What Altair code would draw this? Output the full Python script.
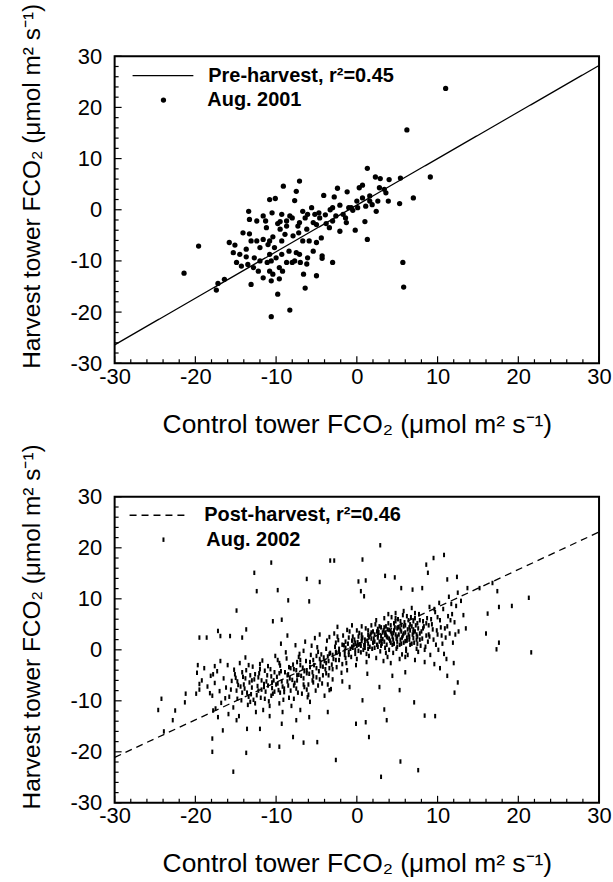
import altair as alt
import pandas as pd

FONT = "Liberation Sans"

# ---------------- axis ticks (data units) ----------------
MAJOR = [-30, -20, -10, 0, 10, 20, 30]
MINOR = [-28, -26, -24, -22, -18, -16, -14, -12, -8, -6, -4, -2,
         2, 4, 6, 8, 12, 14, 16, 18, 22, 24, 26, 28]

# ---------------- regression lines ----------------
LINE_X = [-30, 30]
PRE_Y = [-26.4, 28.2]
POST_Y = [-21.1, 23.1]

# ---------------- Aug. 2001 (top panel) ----------------
aug2001_upper = [
    (11.0, 23.7), (6.2, 15.6), (9.1, 6.4), (1.3, 8.1), (2.3, 6.4), (2.9, 6.1),
    (4.0, 5.9), (5.4, 6.2), (0.7, 4.8), (0.3, 4.3), (-2.4, 4.2), (-1.2, 3.5),
    (-4.1, 2.8), (-2.8, 2.5), (-7.1, 5.6), (-9.1, 4.6), (-7.5, 3.6), (-7.7, 1.8),
    (-10.8, 2.0), (-10.1, 2.2), (-13.4, -0.3), (-11.6, -1.2), (-10.5, -0.6),
    (-9.5, -2.3), (-8.3, -1.2), (-8.0, -1.6), (-6.7, -0.3), (-6.1, -0.9),
    (-5.6, 0.4), (-4.7, -0.6), (-3.9, -1.0), (-3.3, 0.0), (-2.1, 0.9),
    (-1.7, -0.9), (-1.0, 0.4), (-0.5, -0.1), (0.1, 0.4), (1.1, 0.7), (0.7, 2.3),
    (1.6, 1.7), (2.4, -0.3), (3.6, 3.3), (3.9, 1.7), (5.3, 1.2), (7.0, 2.3),
    (2.6, 1.7), (1.6, 2.7), (1.0, -2.3), (1.3, -5.8), (-0.2, -4.0),
]
aug2001_middle = [
    (-1.4, -1.6), (-2.1, -4.2), (-3.0, -2.2), (-3.4, -3.5), (-4.4, -5.5),
    (-5.0, -6.4), (-5.9, -6.1), (-6.7, -6.1), (-5.4, -8.1), (-4.3, -9.5),
    (-3.0, -10.3), (-6.1, -9.4), (-7.0, -10.3), (-7.7, -10.0), (-8.7, -10.3),
    (-9.3, -8.7), (-10.2, -7.4), (-11.0, -6.8), (-11.6, -5.8), (-12.4, -6.1),
    (-13.1, -6.1), (-14.1, -4.5), (-13.3, -4.7), (-15.8, -6.4), (-15.1, -6.9),
    (-13.7, -7.7), (-14.5, -8.7), (-13.7, -9.2), (-12.7, -9.4), (-14.3, -11.0),
    (-12.8, -11.3), (-12.2, -12.0), (-11.6, -13.3), (-13.1, -14.6),
    (-10.8, -12.0), (-10.6, -13.9), (-9.6, -13.5), (-9.2, -12.0), (-8.0, -10.3),
    (-6.6, -12.6), (-6.4, -15.3), (-5.0, -12.9), (-9.8, -16.5), (-8.3, -19.6),
    (-10.6, -20.9), (-16.4, -13.6), (-17.2, -14.4), (-17.4, -15.7),
    (-19.6, -7.1), (-21.4, -12.4),
]
aug2001_lower = [
    (5.7, -10.3), (5.8, -15.1), (-4.3, -9.0), (-10.4, -5.3), (-9.5, -3.8),
    (-8.9, -4.8), (-8.7, -3.2), (-7.3, -3.2), (-6.2, -3.8), (-5.0, -2.9),
    (-7.9, -5.1), (-7.2, -4.5), (-11.2, -3.5), (-10.8, -8.7), (-10.0, -9.4),
    (-11.1, -10.3), (-9.3, -6.1), (-3.8, -2.7), (-2.6, -1.2), (-1.3, -2.5),
    (-0.7, 0.4), (1.9, 1.0), (2.8, 4.3), (3.4, 4.0), (0.0, 1.7), (-3.0, 0.4),
    (-4.6, -1.6), (-5.2, -0.9), (-5.4, -2.5), (-6.4, -1.6), (-7.1, -2.5),
    (-8.7, -2.2), (-9.3, -0.9), (-9.8, -2.7), (-12.4, -2.2), (-11.3, -2.2),
    (-13.3, -1.9), (-10.8, -6.1), (-12.0, -7.4), (-10.6, -10.0), (-12.0, -10.0),
    (-15.3, -8.4), (-14.9, -10.3), (-13.5, -10.7), (-8.4, -8.1), (-7.5, -8.4),
    (-9.6, -11.3), (-10.4, -12.6), (-7.1, -8.7), (-6.2, -10.6),
]

# ---------------- Aug. 2002 (bottom panel) ----------------
aug2002_outliers = [
    (2.9, 20.5), (-10.6, 17.1), (-3.3, 17.5), (-2.8, 17.5), (0.7, 17.7),
    (9.5, 18.0), (10.8, 18.6), (-12.7, 15.1), (-6.2, 13.9), (-4.6, 13.3),
    (0.2, 13.4), (1.1, 13.6), (3.5, 14.5), (4.7, 14.2), (8.6, 16.7),
    (8.8, 15.1), (11.2, 13.8), (12.4, 14.3), (-12.4, 11.5), (-9.8, 11.7),
    (0.5, 11.5), (0.9, 10.5), (5.5, 12.1), (6.9, 11.8), (8.1, 12.1),
    (13.7, 12.1), (15.2, 12.1), (16.8, 13.1), (17.4, 11.5), (17.6, 8.4),
    (19.2, 8.6), (21.3, 10.2), (16.2, 7.1), (16.0, 3.2), (17.6, 1.4),
    (17.3, 0.1), (21.6, -0.5), (-14.9, 7.7), (-8.5, 9.7), (-5.9, 9.5),
    (-10.4, 5.6), (-9.3, 5.9), (-19.5, 2.4), (-18.6, 2.4), (-17.2, 3.7),
    (-16.9, 2.7), (-15.7, 2.7), (-13.7, 4.0), (-14.2, 2.4), (-19.7, -3.0),
    (-17.6, -3.2), (-19.5, -6.7), (-21.2, -8.6), (-21.3, -10.3), (-19.9, -8.6),
    (-22.5, -11.9), (-24.2, -9.6), (-24.6, -11.8), (-22.8, -13.8),
    (-23.9, -16.0), (-17.9, -17.4), (-17.9, -20.0), (-15.3, -23.9),
    (-13.7, -20.2), (-10.8, -18.8), (-9.6, -19.0), (-7.9, -17.1),
    (-6.6, -18.2), (-4.9, -18.1), (-2.6, -21.6), (1.5, -17.1), (3.0, -24.9),
    (5.4, -21.9), (7.6, -23.6), (-0.1, -14.5), (1.1, -14.2), (3.7, -13.8),
    (3.4, -11.7), (7.1, -10.3), (8.4, -12.9), (9.7, -13.0), (12.1, -8.4),
    (12.5, -6.4), (11.2, -5.1), (10.3, -3.6), (6.0, -4.4), (4.4, -5.1),
    (5.3, -7.9), (2.8, -7.3), (1.3, -4.7), (0.7, -9.9), (-0.9, -7.3),
    (-3.4, -7.9), (-3.6, -12.2), (-5.9, -13.2), (-7.5, -13.8), (-9.3, -14.5),
    (-12.0, -15.5), (-13.6, -15.5), (-14.9, -13.8), (-16.6, -15.8),
    (-17.2, -13.2), (-17.8, -11.9),
]
aug2002_low = [
    (-19.8, -4.5), (-19.2, -6.0), (-18.9, -3.6), (-18.5, -7.2), (-18.1, -5.1),
    (-17.9, -9.0), (-17.6, -6.5), (-17.3, -4.2), (-17.0, -8.1), (-16.8, -10.4),
    (-16.5, -5.6), (-16.2, -7.4), (-16.0, -3.0), (-15.8, -9.2), (-15.5, -6.1),
    (-15.3, -11.3), (-15.1, -4.8), (-14.9, -8.0), (-14.7, -6.9), (-14.5, -2.6),
    (-14.3, -9.9), (-14.1, -5.3), (-13.9, -7.6), (-13.7, -4.0), (-13.5, -10.8),
    (-13.3, -6.4), (-13.1, -8.7), (-12.9, -3.3), (-12.7, -5.8), (-12.5, -12.2),
    (-12.3, -7.1), (-12.1, -4.6), (-11.9, -9.4), (-11.7, -2.1), (-11.5, -6.7),
    (-11.3, -8.2), (-11.1, -5.0), (-10.9, -10.1), (-10.7, -3.8), (-10.5, -7.5),
    (-10.3, -6.0), (-10.1, -1.2), (-17.5, -11.5), (-16.9, -2.2), (-15.9, -12.6),
    (-14.6, -13.0), (-13.8, -1.5), (-12.6, -10.5), (-11.6, -11.8),
    (-10.8, -13.0), (-18.2, -8.5), (-16.3, -9.5), (-15.0, -5.5), (-14.0, -6.8),
    (-13.2, -5.0), (-12.4, -8.9), (-11.4, -4.1), (-10.6, -9.0), (-19.5, -7.8),
    (-17.8, -4.8),
]
aug2002_midlow = [
    (-9.9, -5.3), (-9.7, -7.9), (-9.5, -3.1), (-9.3, -6.2), (-9.1, -9.8),
    (-8.9, -4.4), (-8.7, -1.7), (-8.5, -7.0), (-8.3, -5.6), (-8.1, -11.0),
    (-7.9, -2.9), (-7.7, -6.5), (-7.5, -4.0), (-7.3, -8.4), (-7.1, -0.8),
    (-6.9, -5.1), (-6.7, -3.5), (-6.5, -7.3), (-6.3, -2.2), (-6.1, -9.3),
    (-5.9, -4.7), (-5.7, -1.0), (-5.5, -6.0), (-5.3, -3.0), (-5.1, -8.0),
    (-4.9, 0.5), (-4.7, -4.2), (-4.5, -2.4), (-4.3, -6.6), (-4.1, -1.5),
    (-3.9, -3.8), (-3.7, 1.8), (-3.5, -5.0), (-3.3, -0.6), (-3.1, -2.9),
    (-9.8, -2.0), (-9.0, -8.3), (-8.4, -3.4), (-7.8, -9.6), (-7.2, -4.9),
    (-6.6, -0.2), (-6.0, -6.8), (-5.4, -2.0), (-4.8, -7.0), (-4.2, -3.3),
    (-3.6, -1.3), (-9.6, -10.5), (-8.8, -0.5), (-8.0, -5.9), (-7.4, -2.4),
    (-6.8, -8.6), (-6.2, -4.0), (-5.6, 0.8), (-5.0, -5.4), (-4.4, -0.9),
    (-3.8, -4.6), (-3.2, -7.7), (-9.4, 1.2), (-8.6, 2.8), (-7.6, 0.9),
    (-6.4, 1.6), (-5.2, 2.3), (-4.6, 3.0), (-3.4, 2.5), (-9.2, -12.2),
    (-7.0, -11.8), (-5.8, -10.2), (-4.0, -9.0), (-3.0, -5.8),
]
aug2002_mid = [
    (-2.9, -1.8), (-2.7, 0.6), (-2.5, -3.4), (-2.3, 1.9), (-2.1, -0.9),
    (-1.9, -4.5), (-1.7, 2.8), (-1.5, -0.2), (-1.3, -2.6), (-1.1, 1.2),
    (-0.9, 3.6), (-0.7, -1.4), (-0.5, 0.4), (-0.3, 2.0), (-0.1, -3.0),
    (0.1, 1.5), (0.3, 3.3), (0.5, -0.5), (0.7, 2.4), (0.9, 0.9), (1.1, 4.2),
    (1.3, 1.8), (1.5, -1.2), (1.7, 3.0), (1.9, 0.2), (2.1, 2.2), (2.3, 5.0),
    (2.5, 1.0), (2.7, 3.5), (2.9, -0.3), (-2.8, 3.2), (-2.2, -2.0), (-1.6, 0.9),
    (-1.0, -1.0), (-0.4, 1.0), (0.2, 2.6), (0.8, 0.0), (1.4, 2.9), (2.0, 1.4),
    (2.6, 4.1), (-2.4, 4.5), (-1.8, -6.2), (-1.2, 3.9), (-0.6, 4.8),
    (0.0, -1.8), (0.6, 4.6), (1.2, -2.4), (1.8, 4.8), (2.4, -1.6), (3.0, 2.7),
    (-0.8, 0.2), (0.4, 1.1), (1.6, 0.6), (2.8, 1.6), (-2.6, -0.4), (-1.4, 1.6),
    (0.0, 0.8), (1.0, 2.0), (2.2, 0.4), (-0.2, -0.8), (0.6, 1.7), (1.4, 1.2),
    (2.0, 3.6), (2.6, 2.4),
]
aug2002_high = [
    (3.1, 1.2), (3.3, 3.8), (3.5, 0.4), (3.7, 2.6), (3.9, 5.2), (4.1, 1.8),
    (4.3, 3.2), (4.5, -0.6), (4.7, 4.4), (4.9, 2.2), (5.1, 6.0), (5.3, 1.0),
    (5.5, 3.6), (5.7, 2.8), (5.9, 5.4), (6.1, 0.2), (6.3, 4.0), (6.5, 2.0),
    (6.7, 6.4), (6.9, 3.0), (7.1, 1.4), (7.3, 4.8), (7.5, 2.6), (7.7, 7.0),
    (7.9, 0.8), (3.2, 2.1), (3.6, 4.6), (4.0, 0.0), (4.4, 2.5), (4.8, 5.6),
    (5.2, 3.0), (5.6, -0.9), (6.0, 3.4), (6.4, 5.8), (6.8, 1.2), (7.2, 3.6),
    (7.6, -0.4), (3.4, 6.2), (3.8, -1.4), (4.2, 4.8), (4.6, 1.2), (5.0, 4.2),
    (5.4, 2.0), (5.8, 4.6), (6.2, 2.4), (6.6, 3.8), (7.0, 5.6), (7.4, 0.2),
    (7.8, 3.2), (3.0, 4.4), (3.5, 2.9), (4.0, 3.9), (4.5, 3.3), (5.0, 1.6),
    (5.5, 4.9), (6.0, 1.7), (6.5, 4.4), (7.0, 2.3), (3.3, -2.2), (4.2, -2.6),
    (5.3, -1.8), (6.3, -1.0), (7.2, -2.0), (4.8, 7.2), (5.8, 7.6), (6.8, 8.2),
    (3.9, 7.0),
]
aug2002_right = [
    (8.1, 2.2), (8.3, 4.6), (8.5, 0.6), (8.7, 6.2), (8.9, 3.0), (9.1, -1.0),
    (9.3, 5.0), (9.5, 2.0), (9.7, 7.4), (9.9, 3.8), (10.1, 0.0), (10.3, 5.8),
    (10.5, 2.8), (10.7, 8.0), (10.9, 4.2), (11.1, -1.8), (11.3, 6.6),
    (11.5, 3.2), (11.7, 9.0), (11.9, 1.4), (12.1, 5.4), (12.3, 8.6),
    (12.6, 3.6), (12.9, 9.6), (13.2, 6.8), (8.4, -2.4), (9.0, 8.4), (9.6, -2.8),
    (10.2, 9.2), (10.8, -0.8), (11.4, 10.4), (12.0, -2.6), (12.5, 11.2),
    (8.8, 1.6), (9.4, 4.0), (10.0, 6.4), (10.6, 1.2), (11.2, 4.6), (11.8, 7.0),
    (8.2, 5.6), (13.5, 4.2),
]
aug2002_dense = [
    (-15.6, -7.8), (-15.2, -3.9), (-14.8, -9.6), (-14.4, -7.2), (-14.2, -4.4),
    (-13.6, -8.4), (-13.4, -3.0), (-13.0, -6.0), (-12.8, -9.8), (-12.2, -5.4),
    (-12.0, -2.8), (-11.8, -7.8), (-11.2, -6.2), (-11.0, -3.2), (-10.4, -8.6),
    (-10.2, -4.4), (-10.0, -6.8), (-9.6, -4.6), (-9.2, -7.2), (-8.6, -5.0),
    (-8.2, -8.0), (-7.8, -3.8), (-7.4, -6.0), (-7.0, -2.0), (-6.6, -5.6),
    (-6.2, -7.8), (-5.8, -3.4), (-5.4, -5.2), (-5.0, -1.2), (-4.6, -5.8),
    (-4.0, -2.2), (-3.8, 0.2), (-3.4, -3.6), (-3.0, -1.0), (-2.6, 1.4),
    (-2.2, -0.4), (-1.8, 1.0), (-1.4, -1.6), (-1.0, 2.4), (-0.6, 0.6),
    (-0.2, 1.4), (0.2, -0.2), (0.6, 3.0), (1.0, 0.4), (1.4, 3.8), (1.8, 2.2),
    (2.2, 3.0), (2.6, 0.6), (2.8, 4.6), (3.0, 0.8), (3.2, 3.4), (3.4, 1.6),
    (3.6, 3.0), (3.8, 4.0), (4.0, 2.2), (4.2, 3.6), (4.4, 1.0), (4.6, 5.2),
    (4.8, 3.0), (5.0, 0.6), (5.2, 4.4), (5.4, 5.6), (5.6, 2.4), (5.8, 1.4),
    (6.0, 4.8), (6.2, 6.6), (6.4, 3.0), (6.6, 1.0), (6.8, 4.6), (7.0, 3.4),
    (7.2, 6.2), (7.4, 2.0), (7.6, 4.2), (7.8, 5.8), (4.3, 6.4), (5.7, 6.8),
    (3.7, 1.0), (4.9, 0.2), (6.1, -0.2), (7.5, 1.2), (8.0, 3.6), (8.6, 2.8),
    (9.2, 6.0), (9.8, 1.0), (10.4, 4.4), (11.0, 2.4), (11.6, 5.8), (12.2, 3.0),
    (8.9, 4.8), (10.0, 3.0),
]
aug2002_core = [
    (-14.8, -6.2), (-14.2, -8.4), (-13.8, -5.6), (-13.4, -9.2), (-13.0, -7.4),
    (-12.6, -4.8), (-12.2, -8.0), (-11.8, -6.0), (-11.4, -9.6), (-11.0, -7.0),
    (-10.6, -5.2), (-10.2, -8.2), (-9.8, -6.6), (-9.4, -4.2), (-9.0, -7.6),
    (-8.6, -6.2), (-8.2, -3.6), (-7.8, -7.0), (-7.4, -5.0), (-7.0, -3.0),
    (-6.6, -6.8), (-6.2, -4.6), (-5.8, -2.4), (-5.4, -6.4), (-5.0, -3.6),
    (-4.6, -1.8), (-4.2, -5.0), (-3.8, -2.6), (-3.4, -0.8), (-3.0, -3.8),
    (-2.6, -2.0), (-2.2, 0.2), (-1.8, -2.8), (-1.4, 0.4), (-1.0, -0.4),
    (-0.6, 1.8), (-0.2, 0.0), (0.2, 1.0), (0.6, 2.2), (1.0, 1.2), (1.4, 0.2),
    (1.8, 3.4), (2.2, 1.6), (2.6, 2.8), (3.0, 1.8), (3.4, 4.4), (3.8, 2.4),
    (4.2, 1.4), (4.6, 3.8), (5.0, 2.6), (5.4, 4.0), (5.8, 3.2), (6.2, 1.8),
    (6.6, 5.0), (7.0, 4.0), (7.4, 3.0), (7.8, 2.0), (8.2, 4.2), (8.6, 5.2),
    (9.0, 2.6), (-13.2, -10.2), (-12.0, -3.8), (-10.8, -11.0), (-9.6, -2.6),
    (-8.4, -9.4), (-7.2, -1.4), (-6.0, -8.8), (-4.8, -0.4), (-3.6, -6.8),
    (-2.4, 2.6), (-1.2, -4.0), (0.0, 3.8), (1.2, -0.8), (2.4, 5.8), (3.6, -0.6),
    (4.8, 6.2), (6.0, -1.4), (7.2, 7.2), (8.4, 0.0), (9.6, 8.0), (-11.5, -7.3),
    (-10.5, -6.4), (-9.5, -8.4), (-8.5, -4.8), (-7.5, -7.6), (-6.5, -4.2),
    (-5.5, -4.4), (-4.5, -3.2), (-3.5, -2.2), (-2.5, -0.6), (-1.5, -1.0),
    (-0.5, 2.6), (0.5, 0.8), (1.5, 2.6), (2.5, 3.6), (3.5, 3.4), (4.5, 2.0),
    (5.5, 1.2), (6.5, 2.6), (7.5, 5.2),
]

X_TITLE = "Control tower FCO\u2082 (\u03bcmol m\u00b2 s\u207b\u00b9)"
Y_TITLE = "Harvest tower FCO\u2082 (\u03bcmol m\u00b2 s\u207b\u00b9)"

W = 486


def pairs_df(pairs, label):
    return pd.DataFrame({"x": [p[0] for p in pairs],
                         "y": [p[1] for p in pairs],
                         "series": label})


def panel(points, line_y, line_label, point_label, dash, shape, size, H,
          line_leg, pt_leg):
    xs = alt.Scale(domain=[-30, 30], nice=False, zero=False)
    ys = alt.Scale(domain=[-30, 30], nice=False, zero=False)
    xaxis = alt.Axis(values=MAJOR, labelExpr="datum.value", labelFont=FONT,
                     labelFontSize=22, labelColor="black", labelPadding=3,
                     labelFlush=False, labelOverlap=False, ticks=False,
                     domain=False, grid=False, title=X_TITLE, titleFont=FONT,
                     titleFontSize=26.5, titleFontWeight="normal",
                     titleColor="black", titlePadding=24)
    yaxis = alt.Axis(values=MAJOR, labelExpr="datum.value", labelFont=FONT,
                     labelFontSize=22, labelColor="black", labelPadding=13,
                     labelFlush=False, labelOverlap=False, ticks=False,
                     domain=False, grid=False, title=Y_TITLE, titleFont=FONT,
                     titleFontSize=24.5, titleFontWeight="normal",
                     titleColor="black", titlePadding=26, titleY=130)
    X = alt.X("x:Q", scale=xs, axis=xaxis)
    Y = alt.Y("y:Q", scale=ys, axis=yaxis)

    line_df = pd.DataFrame({"x": LINE_X, "y": line_y, "series": line_label})
    line = alt.Chart(line_df).mark_line(color="black", strokeWidth=1.3).encode(
        x=X, y=Y,
        strokeDash=alt.StrokeDash(
            "series:N",
            scale=alt.Scale(domain=[line_label], range=[dash]),
            legend=alt.Legend(orient="none", legendX=line_leg[0],
                              legendY=line_leg[1], title=None, padding=0,
                              symbolType="stroke", symbolSize=line_leg[2] ** 2,
                              symbolStrokeColor="black", symbolStrokeWidth=1.3,
                              labelOffset=line_leg[3], labelFont=FONT,
                              labelFontSize=20, labelFontWeight="bold",
                              labelColor="black", labelLimit=400)))

    pts = alt.Chart(points).mark_point(filled=True, color="black", opacity=1,
                                       size=size).encode(
        x=X, y=Y,
        shape=alt.Shape(
            "series:N",
            scale=alt.Scale(domain=[point_label], range=[shape]),
            legend=alt.Legend(orient="none", legendX=pt_leg[0],
                              legendY=pt_leg[1], title=None, padding=0,
                              symbolSize=size, symbolFillColor="black",
                              symbolStrokeColor="black", symbolStrokeWidth=0,
                              labelOffset=pt_leg[2], labelFont=FONT,
                              labelFontSize=20, labelFontWeight="bold",
                              labelColor="black", labelLimit=400)))

    maj = pd.DataFrame({"x": MAJOR, "y": MAJOR})
    mnr = pd.DataFrame({"x": MINOR, "y": MINOR})
    xt_maj = alt.Chart(maj).mark_rule(color="black", strokeWidth=1.2).encode(
        x=X, y=alt.value(H), y2=alt.value(H - 7))
    xt_min = alt.Chart(mnr).mark_rule(color="black", strokeWidth=1.2).encode(
        x=X, y=alt.value(H), y2=alt.value(H - 4))
    yt_maj = alt.Chart(maj).mark_rule(color="black", strokeWidth=1.2).encode(
        y=Y, x=alt.value(0), x2=alt.value(7))
    yt_min = alt.Chart(mnr).mark_rule(color="black", strokeWidth=1.2).encode(
        y=Y, x=alt.value(0), x2=alt.value(4))

    return alt.layer(pts, line, xt_maj, xt_min, yt_maj, yt_min).properties(
        width=W, height=H)


top_points = pd.concat([pairs_df(aug2001_upper, "Aug. 2001"),
                        pairs_df(aug2001_middle, "Aug. 2001"),
                        pairs_df(aug2001_lower, "Aug. 2001")])
bottom_points = pd.concat([pairs_df(p, "Aug. 2002") for p in
                           [aug2002_outliers, aug2002_low, aug2002_midlow,
                            aug2002_mid, aug2002_high, aug2002_right,
                            aug2002_dense, aug2002_core]])

DASH_SHAPE = "M-0.45,-1L0.45,-1L0.45,1L-0.45,1Z"

top = panel(top_points, PRE_Y, "Pre-harvest, r\u00b2=0.45", "Aug. 2001",
            [1, 0], "circle", 28, 308, (17, -12, 61, 14), (39, 34, 34))
bottom = panel(bottom_points, POST_Y, "Post-harvest, r\u00b2=0.46", "Aug. 2002",
               [7, 5], DASH_SHAPE, 20, 307, (14, -10, 55, 19), (39, 33, 33))

chart = alt.vconcat(top, bottom, spacing=134, bounds="flush").resolve_scale(
    x="independent", y="independent", strokeDash="independent",
    shape="independent").resolve_legend(
    strokeDash="independent", shape="independent").properties(
    padding={"left": 18, "top": 0, "right": 0, "bottom": 0},
    background="white").configure_view(stroke="black", strokeWidth=2)

chart.save("out.html", embed_options={"renderer": "svg", "actions": False})
